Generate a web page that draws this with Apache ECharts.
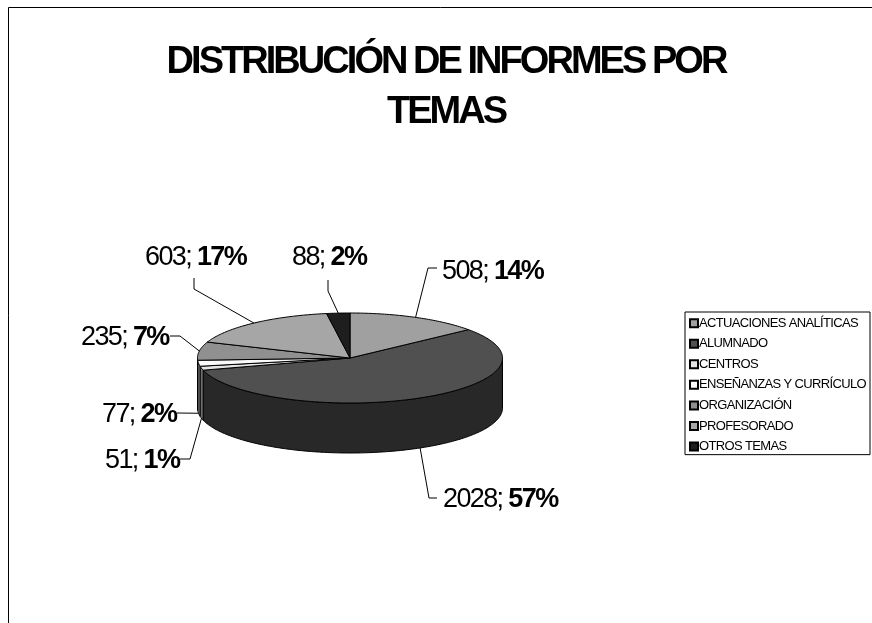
<!DOCTYPE html>
<html><head><meta charset="utf-8">
<style>html,body{margin:0;padding:0;background:#fff}#c{width:872px;height:623px}</style>
<script src="https://cdn.jsdelivr.net/npm/echarts@6/dist/echarts.min.js"></script>
</head><body><div id="c"></div>
<script>
const categories = ['ACTUACIONES ANALÍTICAS','ALUMNADO','CENTROS','ENSEÑANZAS Y CURRÍCULO','ORGANIZACIÓN','PROFESORADO','OTROS TEMAS'];
const values = [508,2028,51,77,235,603,88];
const percents = [14,57,1,2,7,17,2];
const titleText = 'DISTRIBUCIÓN DE INFORMES POR\nTEMAS';

const topColors = ['#a0a0a0','#505050','#e4e4e4','#fafafa','#909090','#a6a6a6','#1e1e1e'];
const sideColors = ['#505050','#282828','#707070','#7c7c7c','#484848','#535353','#0f0f0f'];
const pie = {cx:350, cy:358, rx:152.5, ry:45, depth:50};
// label box (left x, middle y) and the leader line's elbow points for each slice
const labelLayout = [
  {x:442,y:272,path:[[437,268],[428,268]]},
  {x:443,y:500,path:[[437,498],[429,498]]},
  {x:105,y:461,path:[[180,459],[190,459]]},
  {x:102,y:415,path:[[177,413]]},
  {x:81, y:338,path:[[170,336],[180,336]]},
  {x:145,y:258,path:[[194,278],[194,289]]},
  {x:292,y:258,path:[[328,280],[328,291]]}
];

// tighter text tracking, as in the reference
const tracking = sz => sz>30 ? -0.078 : (sz>20 ? -0.06 : -0.05);
['fillText','measureText'].forEach(fn=>{
  const orig = CanvasRenderingContext2D.prototype[fn];
  CanvasRenderingContext2D.prototype[fn] = function(){
    const m = /([\d.]+)px/.exec(this.font);
    if(m){ const s=parseFloat(m[1]); this.letterSpacing = (s*tracking(s))+'px'; }
    return orig.apply(this, arguments);
  };
});

const total = values.reduce((a,b)=>a+b,0);
const starts = []; let acc = 0;
values.forEach(v=>{ starts.push(acc/total*360); acc += v; });
const rim = (deg,dz)=>{ const r=deg*Math.PI/180; return [pie.cx+pie.rx*Math.sin(r), pie.cy-pie.ry*Math.cos(r)+(dz||0)]; };
const arc = (a,b,dz)=>{ const p=[]; const n=Math.max(2,Math.ceil(Math.abs(b-a))); for(let i=0;i<=n;i++) p.push(rim(a+(b-a)*i/n,dz)); return p; };

function makeRender(i){
  return function(params, api){
    const v = api.value(0);
    const a = starts[i], b = a + v/total*360, mid=(a+b)/2;
    const children = [];
    const sa = Math.max(a,90), sb = Math.min(b,270);
    if(sb>sa){
      children.push({type:'polygon',z2:1,shape:{points:arc(sa,sb,0).concat(arc(sb,sa,pie.depth))},
        style:{fill:sideColors[i],stroke:'#000',lineWidth:1}});
    }
    children.push({type:'polygon',z2:2,shape:{points:[[pie.cx,pie.cy]].concat(arc(a,b,0))},
      style:{fill:topColors[i],stroke:'#000',lineWidth:1}});
    const isFront = Math.cos(mid*Math.PI/180)<0;
    const L = labelLayout[i];
    const anchor = rim(mid,isFront?pie.depth:0);
    children.push({type:'polyline',z2:3,shape:{points:L.path.concat([anchor])},style:{fill:null,stroke:'#000',lineWidth:1}});
    children.push({type:'text',z2:4,x:L.x,y:L.y,style:{
      text:'{a|'+v+'; }{b|'+percents[i]+'%}',align:'left',verticalAlign:'middle',
      rich:{a:{fontFamily:'Liberation Sans',fontSize:27,fill:'#000',color:'#000'},
            b:{fontFamily:'Liberation Sans',fontSize:27,fontWeight:'bold',fill:'#000',color:'#000'}}
    }});
    return {type:'group',children};
  };
}

const chart = echarts.init(document.getElementById('c'),null,{renderer:'canvas'});
chart.setOption({
  backgroundColor:'#fff',
  animation:false,
  title:{text:titleText,left:441,top:33,textAlign:'center',
    textStyle:{fontFamily:'Liberation Sans',fontWeight:'bold',fontSize:38,lineHeight:50,color:'#000'}},
  legend:{orient:'vertical',left:685,top:312,data:categories,icon:'rect',itemWidth:8,itemHeight:8,itemGap:8.2,
    padding:[5,4,2,4],borderColor:'#000',borderWidth:1,backgroundColor:'#fff',selectedMode:false,
    textStyle:{fontFamily:'Liberation Sans',fontSize:13,color:'#000',padding:[0,0,0,-4]}},
  graphic:[
    {type:'polyline',silent:true,shape:{points:[[8.5,623],[8.5,7.5],[872,7.5]]},style:{fill:null,stroke:'#000',lineWidth:1}}
  ],
  series:categories.map((name,i)=>({
    type:'custom',name,coordinateSystem:'none',data:[[values[i]]],
    itemStyle:{color:topColors[i],borderColor:'#000',borderWidth:1},
    renderItem:makeRender(i),silent:true,z:i===1?1:2
  }))
});
</script></body></html>
